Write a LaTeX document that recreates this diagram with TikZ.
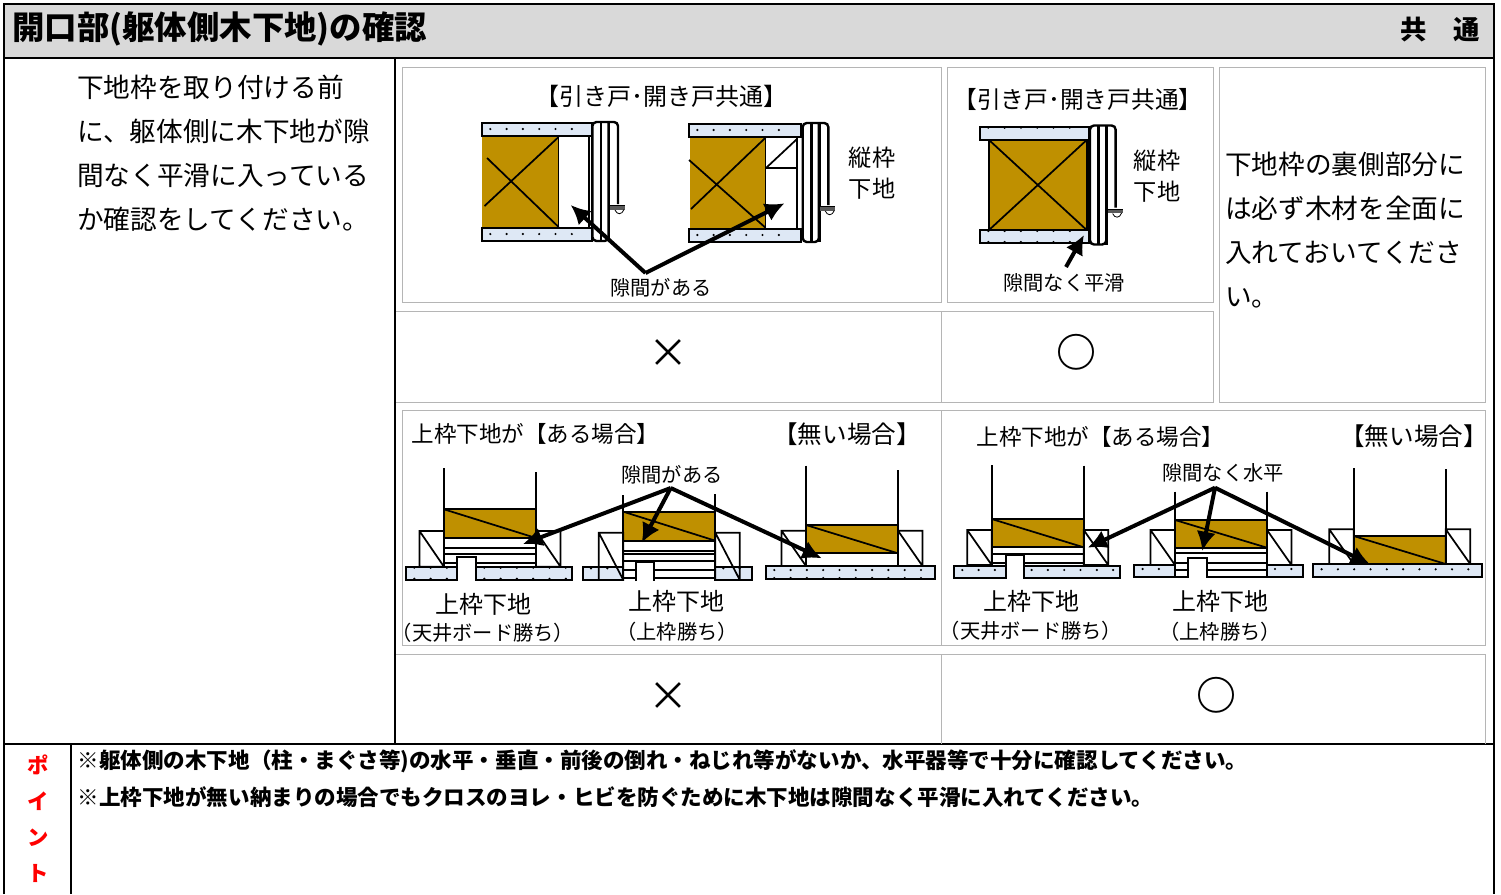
\documentclass[tikz,border=0pt]{standalone}
\usepackage{fontspec}
\setmainfont{Noto Sans CJK JP}
\usetikzlibrary{arrows.meta}

\definecolor{woodcol}{HTML}{BF9000}
\definecolor{boardcol}{HTML}{DEE8F5}
\definecolor{bandcol}{HTML}{D9D9D9}
\definecolor{cellcol}{HTML}{B5B5B5}

\newcommand{\fs}[1]{\fontsize{#1}{#1}\selectfont}

% board with its row(s) of dots
\newcommand{\board}[6]{
  \draw[boardline] (#1,#2) rectangle (#3,#4);
  \foreach \i in {1,...,#5}
    \foreach \dy in {#6}
      \fill ({#1+\i*16.3-8},{#2+\dy}) circle (1.2);
}
% door frame, drawn once and shifted
\newcommand{\doorjamb}[2]{
  \begin{scope}[shift={(#1,#2)}]
    \draw[thinline, line width=1.8pt, rounded corners=3] (618,204) -- (618,122) -- (592.4,122) -- (592.4,241) -- (608.6,241) -- (608.6,122);
    \draw[line width=1.9pt] (601,122) -- (601,241);
    \draw[line width=1.9pt] (609,122) -- (609,241);
    \fill[gray!70!black] (610,205.7) rectangle (625,209.5);
    \draw[thick] (610,205.7) -- (625,205.7);
    \draw[semithick] (615,210) .. controls (617,215) and (622,215) .. (624,209.5);
  \end{scope}
}
% wood head with side boxes and the two studs
\newcommand{\headpart}[7]{
  \draw[wood] (#1,#4) rectangle ({#1+92},#5);
  \draw[thinline] (#1,#4) -- ({#1+92},#5);
  \draw[thinline] ({#1-24.5},#7) rectangle (#1,#6) ({#1-24.5},#6) -- (#1,#7);
  \draw[thinline] ({#1+92},#6) rectangle ({#1+116.5},#7) ({#1+92},#6) -- ({#1+116.5},#7);
  \draw[thinline] (#1,#2) -- (#1,#7);
  \draw[thinline] ({#1+92},#3) -- ({#1+92},#7);
}

\begin{document}
\begin{tikzpicture}[
    x=0.75pt, y=-0.75pt,
    cell/.style={draw=cellcol, line width=0.7pt},
    frameline/.style={draw=black, line width=1.7pt},
    wood/.style={draw=black, fill=woodcol, line width=1.6pt},
    boardline/.style={draw=black, fill=boardcol, line width=1.6pt},
    thinline/.style={draw=black, line width=1.3pt},
    pointer/.style={-{Latex[length=14.5pt,width=14.5pt]}, line width=3pt},
    body/.style={anchor=north west, align=left, font=\fontsize{20}{33}\selectfont, inner sep=0pt},
    caption/.style={inner sep=0pt, font=\fs{17.4}},
    small/.style={inner sep=0pt, font=\fs{15.2}},
    verdict/.style={inner sep=0pt, font=\fs{30}}
  ]
    \useasboundingbox (0,0) rectangle (1501,894);

    % header and table lines
    \fill[bandcol] (4,4) rectangle (1494,58);
    \draw[frameline] (4,894) -- (4,4) -- (1494,4) -- (1494,894);
    \draw[frameline] (4,58) -- (1494,58);
    \draw[frameline] (4,744) -- (1494,744);
    \draw[frameline] (395,58) -- (395,744);
    \draw[frameline, line width=0.8pt] (71,744) -- (71,894);

    \node[anchor=west, inner sep=0pt, font=\fs{24.3}\bfseries] (title) at (12,29) {開口部(躯体側木下地)の確認};
    \node[anchor=east, inner sep=0pt, font=\fs{19.8}\bfseries] (common) at (1480,29.5) {共　通};

    % grey cells
    \draw[cell] (402,67) rectangle (941,302);
    \draw[cell] (947,67) rectangle (1213,302);
    \draw[cell] (1219,67) rectangle (1485,402);
    \draw[cell] (396,311) -- (1213,311) -- (1213,402) -- (396,402);
    \draw[cell] (941,311) -- (941,402);
    \draw[cell] (402,410) rectangle (1485,645);
    \draw[cell] (941,410) -- (941,645);
    \draw[cell] (396,654) -- (1485,654) -- (1485,744);
    \draw[cell] (941,654) -- (941,744);

    \node[body] (leftText) at (77,75) {下地枠を取り付ける前\\に、躯体側に木下地が隙\\間なく平滑に入っている\\か確認をしてください。};
    \node[body] (rightText) at (1225,152) {下地枠の裏側部分に\\は必ず木材を全面に\\入れておいてくださ\\い。};

    % top left details
    \fill[woodcol] (482,136) rectangle (558.6,227);
    \draw[thinline] (558.6,136) -- (558.6,227);
    \draw[thinline] (487,158) -- (558.6,227) (484.5,206) -- (558.6,137);
    \draw[thinline] (589,136) -- (589,228);
    \board{482}{123}{592}{136}{6}{6}
    \board{482}{228}{592}{241}{6}{6}
    \doorjamb{0}{0}

    \fill[woodcol] (690,137.7) rectangle (765.5,228);
    \draw[thinline] (765.5,137.7) -- (765.5,228);
    \draw[thinline] (689,160) -- (765.5,227.7) (691,209) -- (765.5,137.7);
    \draw[thinline] (797,137.7) -- (797,229) (766,168) -- (797,168) (766,168) -- (797,139);
    \board{689}{124}{800.7}{137.3}{6}{6}
    \board{689}{229}{800.7}{242}{6}{6}
    \doorjamb{210.3}{1}

    % top right detail
    \draw[wood] (989,140) rectangle (1086.7,230);
    \draw[thinline] (989,140) -- (1086.7,230) (989,230) -- (1086.7,140);
    \draw[line width=2pt] (1087.7,140) -- (1087.7,230);
    \board{980}{126.7}{1089}{140}{6}{1}
    \board{980}{230}{1089}{243}{6}{1,12}
    \doorjamb{497.6}{3.5}

    \node[caption, font=\fs{18}] (titleA) at (661,96.5) {【引き戸･開き戸共通】};
    \node[caption, font=\fs{17.8}] (titleB) at (1078,99.5) {【引き戸･開き戸共通】};
    \node[caption, align=left, font=\fontsize{17.4}{23.5}\selectfont] (jambA) at (872,173) {縦枠\\下地};
    \node[caption, align=left, font=\fontsize{17.4}{23.5}\selectfont] (jambB) at (1157,176) {縦枠\\下地};
    \node[small] (gapA) at (661,287.5) {隙間がある};
    \node[small] (flatA) at (1064,283) {隙間なく平滑};

    \node[verdict] (ngA) at (668,354) {×};
    \node[verdict, font=\fs{30}\bfseries] (okA) at (1076,352) {○};
    \node[verdict] (ngB) at (668,697) {×};
    \node[verdict, font=\fs{30}\bfseries] (okB) at (1216,695) {○};

    % lower details, left cell
    \draw[thinline] (444,538) -- (444,567) (536,538) -- (536,567);
    \draw[thinline] (444,548.3) -- (536,548.3) (444,554) -- (536,554) (444,562.7) -- (536,562.7);
    \board{406}{566.7}{457.3}{580}{3}{1,12}
    \board{476}{566.7}{572.3}{580}{6}{1,12}
    \fill[white] (458.3,557) rectangle (475,581.5);
    \draw[thinline] (457.3,581) -- (457.3,556.7) -- (476,556.7) -- (476,581);
    \headpart{444}{468}{472}{509.3}{538}{531}{566.7}

    \draw[thinline] (623.3,550.7) -- (715,550.7) (623.3,554) -- (715,554) (623.3,560.7) -- (715,560.7) (623.3,570) -- (715,570) (623.3,577.7) -- (715,577.7);
    \board{582.7}{567.3}{623.3}{580}{2}{1}
    \board{715}{567.3}{751.7}{580}{2}{1}
    \fill[white] (637,562.5) rectangle (653.3,581.5);
    \draw[thinline] (636,581) -- (636,561.7) -- (654.3,561.7) -- (654.3,581);
    \headpart{623.3}{495}{494}{511.7}{540.7}{532.7}{580}

    \draw[thinline] (806,553.3) -- (806,566) (897.7,553.3) -- (897.7,566);
    \board{766}{566}{935}{579}{10}{4,12}
    \headpart{806}{465.7}{470}{525}{553.3}{530.7}{566}

    % lower details, right cell
    \draw[thinline] (991.7,554) -- (1083.7,554) (991.7,563.3) -- (1006,563.3) (1024,563.3) -- (1083.7,563.3);
    \board{954}{566}{1006}{577.7}{3}{4}
    \board{1023.3}{566}{1120}{577.7}{6}{4}
    \fill[white] (1007,555.8) rectangle (1023,579);
    \draw[thinline] (1006,578) -- (1006,555) -- (1024,555) -- (1024,578);
    \headpart{991.7}{465}{465.7}{519}{547.3}{530}{565}

    \draw[thinline] (1175,553.3) -- (1266.7,553.3) (1175,562.7) -- (1266.7,562.7) (1175,570) -- (1266.7,570) (1175,577.3) -- (1266.7,577.3);
    \board{1134.3}{565}{1175}{577.3}{2}{4}
    \board{1266.7}{565}{1303.3}{577.3}{2}{4}
    \fill[white] (1188.7,559) rectangle (1205.7,578.5);
    \draw[thinline] (1187.7,578) -- (1187.7,558.3) -- (1206.7,558.3) -- (1206.7,578);
    \headpart{1175}{491.7}{491.7}{520}{547.7}{530}{565}

    \board{1313.3}{564.3}{1482.3}{577.3}{10}{5}
    \headpart{1353.7}{468.3}{469}{536}{564}{529.3}{564}

    \node[caption, font=\fs{16.9}] (headA) at (535.5,433.5) {上枠下地が【ある場合】};
    \node[caption, font=\fs{18.4}] (noneA) at (847,434.5) {【無い場合】};
    \node[caption, font=\fs{16.9}] (headB) at (1100.5,436.5) {上枠下地が【ある場合】};
    \node[caption, font=\fs{18.4}] (noneB) at (1414,436.5) {【無い場合】};
    \node[small] (gapB) at (672,474.5) {隙間がある};
    \node[small] (levelB) at (1223,472.5) {隙間なく水平};

    \node[caption, font=\fs{18}] (subA) at (483,604.5) {上枠下地};
    \node[small] (noteA) at (483,632.5) {（天井ボード勝ち）};
    \node[caption, font=\fs{18}] (subB) at (676,601.5) {上枠下地};
    \node[small] (noteB) at (677,631.5) {（上枠勝ち）};
    \node[caption, font=\fs{18}] (subC) at (1031,601.5) {上枠下地};
    \node[small] (noteC) at (1031,630.5) {（天井ボード勝ち）};
    \node[caption, font=\fs{18}] (subD) at (1220,601.5) {上枠下地};
    \node[small] (noteD) at (1220,631.5) {（上枠勝ち）};

    % pointers
    \coordinate (apexA) at (645.5,273);
    \coordinate (tipA) at (570.7,205);
    \coordinate (tipB) at (784.5,203.3);
    \coordinate (apexB) at (1066,267);
    \coordinate (tipC) at (1084,235);
    \coordinate (apexC) at (670.7,488);
    \coordinate (tipD) at (523,544);
    \coordinate (tipE) at (641.7,542.7);
    \coordinate (tipF) at (821.7,558.3);
    \coordinate (apexD) at (1215,487.7);
    \coordinate (tipG) at (1087.7,547.7);
    \coordinate (tipH) at (1202.3,551);
    \coordinate (tipI) at (1370,564.3);

    \draw[pointer] (apexA) -- (tipA);
    \draw[pointer] (apexA) -- (tipB);
    \draw[pointer] (apexB) -- (tipC);
    \draw[pointer] (apexC) -- (tipD);
    \draw[pointer] (apexC) -- (tipE);
    \draw[pointer] (apexC) -- (tipF);
    \draw[pointer] (apexD) -- (tipG);
    \draw[pointer] (apexD) -- (tipH);
    \draw[pointer] (apexD) -- (tipI);

    % point row
    \node[anchor=north, align=center, text=red, inner sep=0pt, font=\fontsize{16}{27}\selectfont\bfseries] (point) at (38,755) {ポ\\イ\\ン\\ト};
    \node[anchor=west, inner sep=0pt, font=\fs{16.15}\bfseries] (noteOne) at (77.5,761.5) {※躯体側の木下地（柱・まぐさ等)の水平・垂直・前後の倒れ・ねじれ等がないか、水平器等で十分に確認してください。};
    \node[anchor=west, inner sep=0pt, font=\fs{16.15}\bfseries] (noteTwo) at (77.5,797) {※上枠下地が無い納まりの場合でもクロスのヨレ・ヒビを防ぐために木下地は隙間なく平滑に入れてください。};
\end{tikzpicture}
\end{document}
